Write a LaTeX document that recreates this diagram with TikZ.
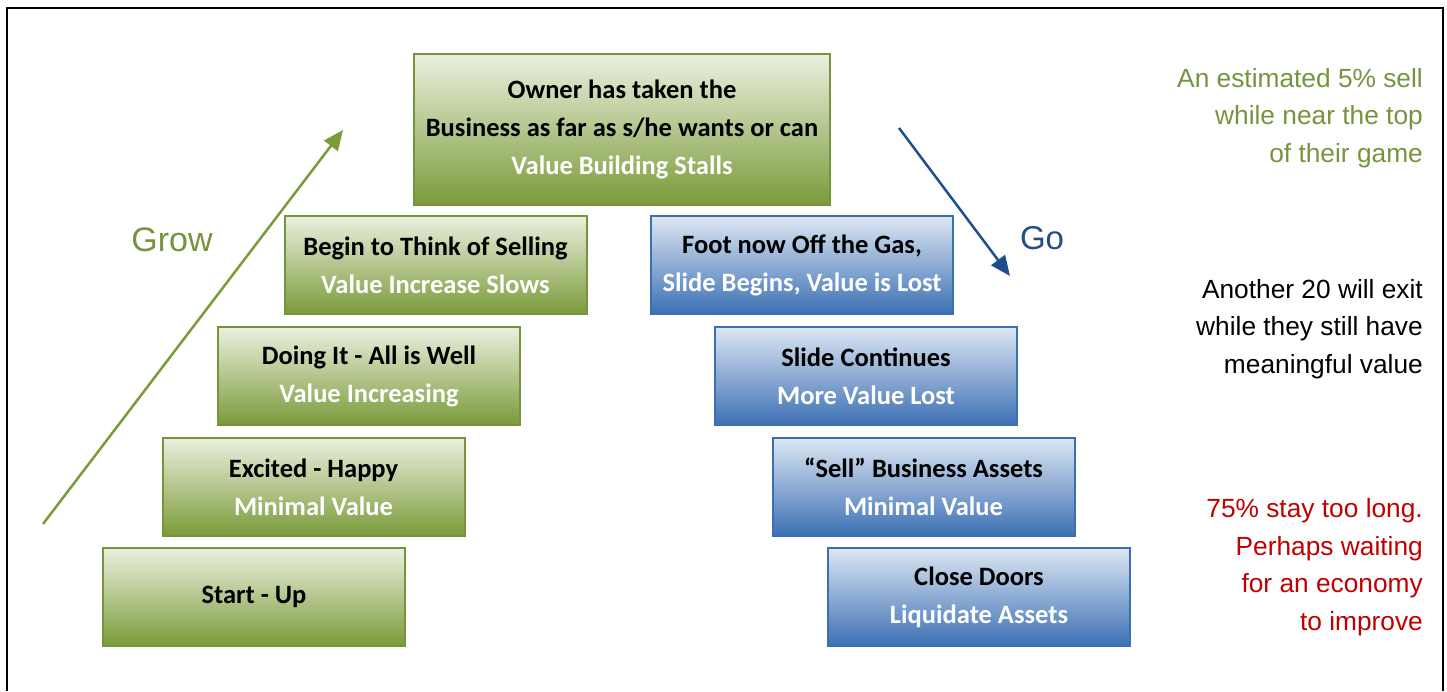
\documentclass[tikz,border=0pt]{standalone}
\usepackage{fontspec}
\setmainfont{Liberation Sans}
\newfontfamily\boxfont{Carlito}[BoldFont={Carlito Bold}]
\usetikzlibrary{arrows.meta}
\definecolor{gborder}{HTML}{77933C}
\definecolor{gtop}{HTML}{EBF0DF}
\definecolor{gbot}{HTML}{7A9B3A}
\definecolor{bborder}{HTML}{3B6EB2}
\definecolor{btop}{HTML}{DDE7F3}
\definecolor{bbot}{HTML}{3C70B4}
\definecolor{gtext}{HTML}{77933C}
\definecolor{rtext}{HTML}{C00000}
\definecolor{gotext}{HTML}{254E86}
\definecolor{garrow}{HTML}{7A9B3A}
\definecolor{barrow}{HTML}{1F4E8C}
\tikzset{
  stagebox/.style={draw, line width=2pt, minimum width=302pt, minimum height=98pt,
    inner sep=0pt, align=center, font=\boxfont\bfseries\fontsize{26.5}{38}\selectfont},
  gbox/.style={stagebox, draw=gborder, top color=gtop, bottom color=gbot},
  bbox/.style={stagebox, draw=bborder, top color=btop, bottom color=bbot},
  sidetext/.style={anchor=east, align=right, inner sep=0pt, font=\fontsize{26.3}{37.5}\selectfont},
  bigword/.style={inner sep=0pt, font=\fontsize{34}{36}\selectfont},
  flowarrow/.style={line width=2.5pt, -{Triangle[length=20pt,width=17pt]}}
}
\newcommand{\wl}[1]{\textcolor{white}{#1}}
\begin{document}
\begin{tikzpicture}[x=1pt,y=-1pt]
\useasboundingbox (0,0) rectangle (1447,691);
\draw[line width=2.5pt] (7,691) -- (7,8) -- (1443,8) -- (1443,691);
% green stages
\node[gbox, minimum width=416pt, minimum height=151pt] (top) at (622,129.5)
  {Owner has taken the\\Business as far as s/he wants or can\\\wl{Value Building Stalls}};
\node[gbox] (begin) at (435.5,265) {Begin to Think of Selling\\\wl{Value Increase Slows}};
\node[gbox] (doing) at (369,376) {Doing It - All is Well\\\wl{Value Increasing}};
\node[gbox] (excited) at (313.5,487) {Excited - Happy\\\wl{Minimal Value}};
\node[gbox] (startup) at (254,597) {Start - Up};
% blue stages
\node[bbox] (foot) at (802,265) {Foot now Off the Gas,\\\wl{Slide Begins, Value is Lost}};
\node[bbox] (slide) at (866,376) {Slide Continues\\\wl{More Value Lost}};
\node[bbox] (sell) at (923.5,487) {“Sell” Business Assets\\\wl{Minimal Value}};
\node[bbox] (close) at (979,597) {Close Doors\\\wl{Liquidate Assets}};
% arrows
\coordinate (gs) at (43,524);
\coordinate (ge) at (343,130);
\coordinate (bs) at (899,128);
\coordinate (be) at (1010,276);
\draw[flowarrow, garrow] (gs) -- (ge);
\draw[flowarrow, barrow] (bs) -- (be);
\node[bigword, text=gtext] (grow) at (172,240) {Grow};
\node[bigword, text=gotext, font=\fontsize{33}{36}\selectfont] (go) at (1042,238) {Go};
% side texts
\node[sidetext, text=gtext] (t1) at (1423,118) {An estimated 5\% sell\\while near the top\\of their game};
\node[sidetext, text=black] (t2) at (1423,329) {Another 20 will exit\\while they still have\\meaningful value};
\node[sidetext, text=rtext] (t3) at (1423,567) {75\% stay too long.\\Perhaps waiting\\for an economy\\to improve};
\end{tikzpicture}
\end{document}
